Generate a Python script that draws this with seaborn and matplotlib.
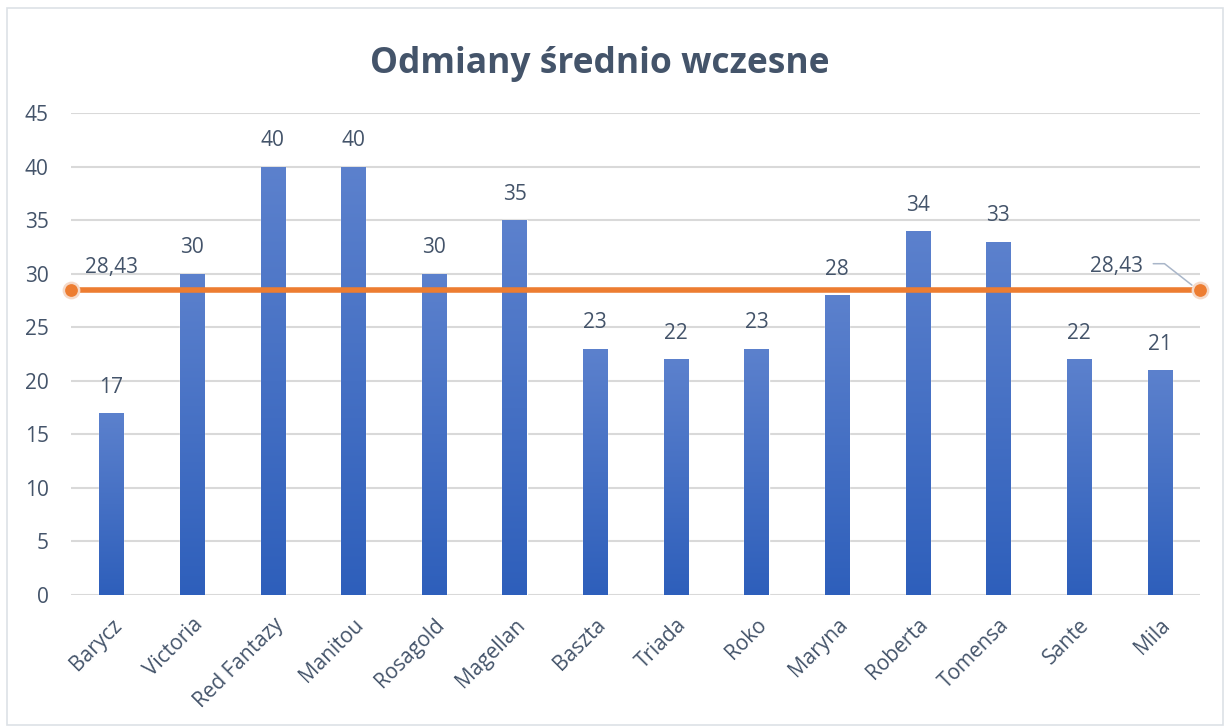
import numpy as np
import pandas as pd
import matplotlib
matplotlib.use("Agg")
import matplotlib.pyplot as plt
import seaborn as sns
from matplotlib.colors import LinearSegmentedColormap
from matplotlib.patches import Rectangle

categories = ["Barycz", "Victoria", "Red Fantazy", "Manitou", "Rosagold", "Magellan",
              "Baszta", "Triada", "Roko", "Maryna", "Roberta", "Tomensa", "Sante", "Mila"]
values = [17, 30, 40, 40, 30, 35, 23, 22, 23, 28, 34, 33, 22, 21]
average = 28.43
average_label = "28,43"
y_ticks = [0, 5, 10, 15, 20, 25, 30, 35, 40, 45]
title = "Odmiany średnio wczesne"

sns.set_theme(style="white")
plt.rcParams['font.family'] = ['Open Sans', 'DejaVu Sans']

text_col = "#44546A"
grid_col = "#D9D9D9"

df = pd.DataFrame({"odmiana": categories, "wartosc": values})

fig = plt.figure(figsize=(12.28, 7.27), dpi=100)
ax = fig.add_axes([71/1228, 1-595/727, (1200-71)/1228, (595-113)/727])

sns.barplot(data=df, x="odmiana", y="wartosc", color="#4472C4", width=0.30, ax=ax, zorder=2)

XMIN, XMAX = -0.5, len(categories) - 0.5
ax.set_ylim(0, 45)
ax.set_xlim(XMIN, XMAX)
ax.set_yticks(y_ticks)
ax.yaxis.grid(True, color=grid_col, linewidth=1.5, zorder=0)
ax.set_axisbelow(True)
for s in ax.spines.values():
    s.set_visible(False)
ax.set_xlabel("")
ax.set_ylabel("")
ax.tick_params(axis="y", length=0, pad=16, labelsize=15, labelcolor=text_col)
ax.tick_params(axis="x", length=0, pad=14, labelsize=15, labelcolor=text_col)
plt.setp(ax.get_xticklabels(), rotation=45, ha="right", rotation_mode="anchor")

# gradient fill for bars
cmap = LinearSegmentedColormap.from_list("g", ["#2E5FBB", "#5C81CD"])
grad = np.linspace(0, 1, 256).reshape(-1, 1)
for p in list(ax.patches):
    x0, y0 = p.get_x(), p.get_y()
    w, h = p.get_width(), p.get_height()
    im = ax.imshow(grad, cmap=cmap, aspect="auto", origin="lower",
                   extent=[x0, x0 + w, y0, y0 + h], zorder=2.1)
    im.set_clip_path(p)
    p.set_facecolor("none")
ax.set_xlim(XMIN, XMAX)
ax.set_ylim(0, 45)

# value labels
for i, v in enumerate(values):
    ax.annotate(str(v), (i, v), xytext=(0, 11), textcoords="offset points",
                ha="center", va="bottom", fontsize=15, color=text_col)

# average line
avg_x = [XMIN, XMAX]
sns.lineplot(x=avg_x, y=[average, average], ax=ax, color="#ED7D31", linewidth=4.0,
             marker="o", markersize=11, markeredgecolor="#F5D9C8", markeredgewidth=1.8,
             zorder=4, clip_on=False)

ax.annotate(average_label, (0, average), xytext=(0, 9), textcoords="offset points",
            ha="center", va="bottom", fontsize=15, color=text_col)

# right label with leader line
lab_x, lab_y = 12.47, average + 2.2
ax.text(lab_x, lab_y, average_label, ha="center", va="center", fontsize=15, color=text_col)
ax.plot([lab_x + 0.45, lab_x + 0.59, XMAX - 0.1], [lab_y + 0.3, lab_y + 0.3, average + 0.5],
        color="#A9B6C9", linewidth=1.1, zorder=3, clip_on=False)

fig.text(600/1228, 1-64/727, title, ha="center", va="center", fontsize=25.5,
         fontweight="bold", color=text_col)

fig.patches.append(Rectangle((7/1228, 2/727), 1-12/1228, 1-10/727, transform=fig.transFigure,
                             fill=False, edgecolor="#DDE1E6", linewidth=1.2))

fig.savefig("out.png", dpi=100)
